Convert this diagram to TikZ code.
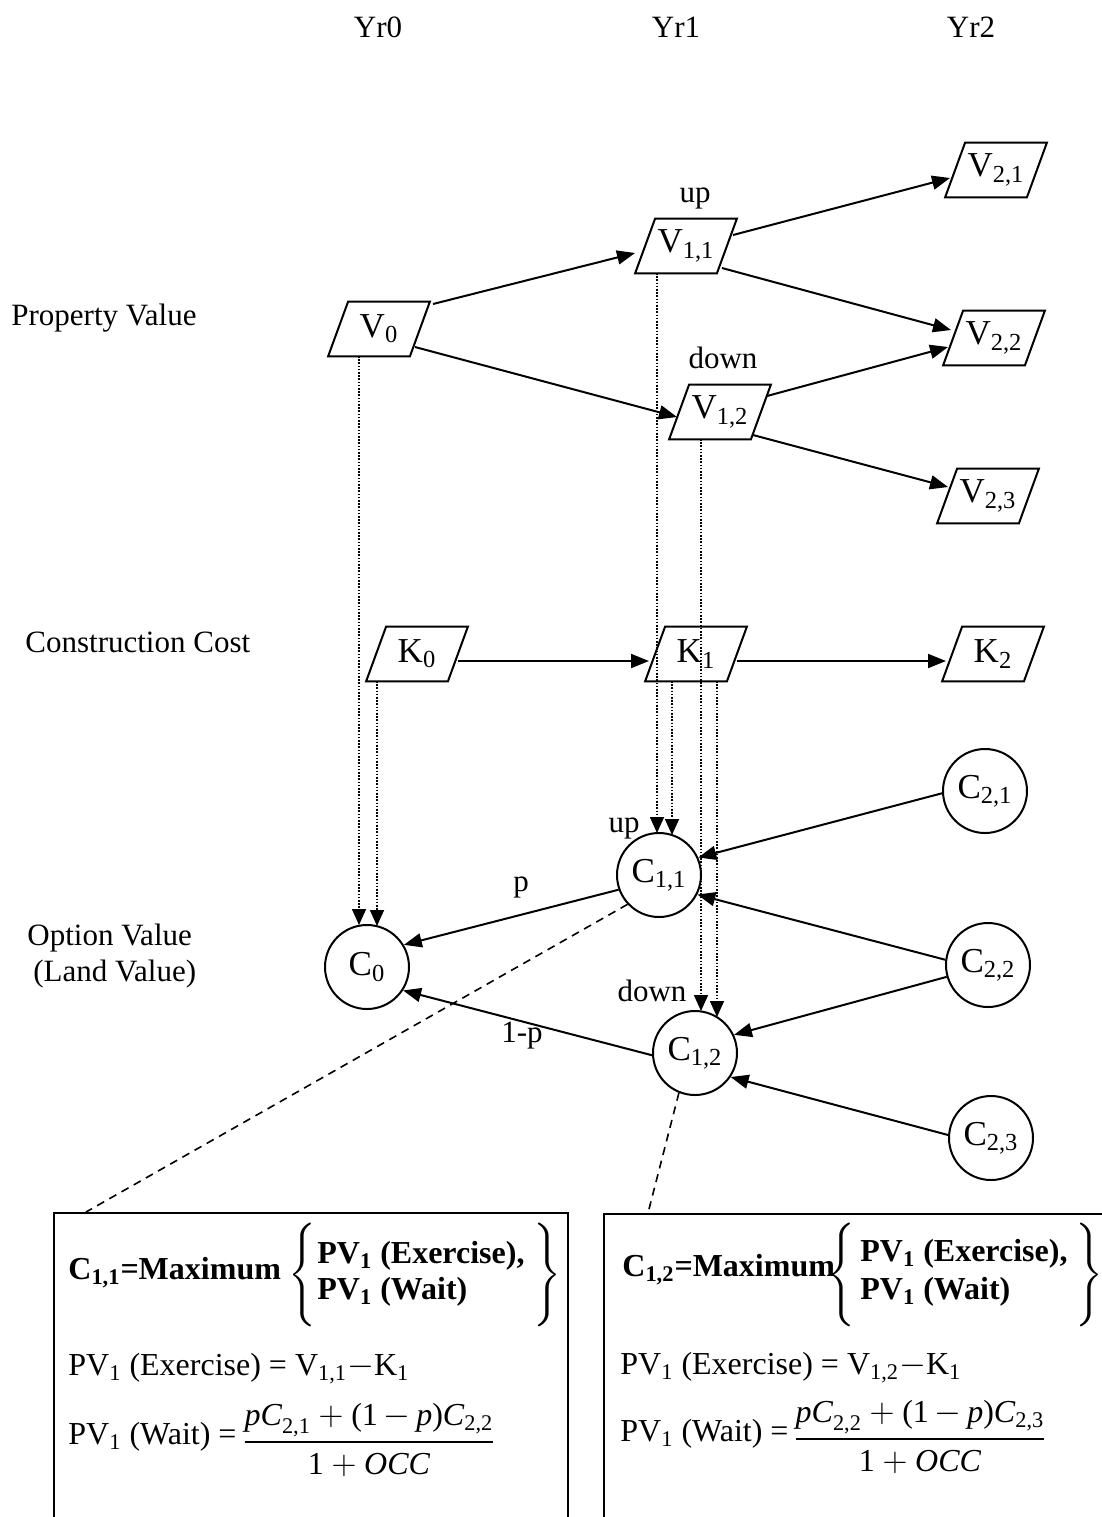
\documentclass[tikz,border=0pt]{standalone}
\usepackage{amsmath}
\usepackage{fontspec}
\setmainfont{Liberation Serif}
\usetikzlibrary{arrows.meta,calc}
\newcommand\mi[1]{\text{\itshape #1}}
\newcommand\sbs[1]{\textsubscript{#1}}
\newcommand\bigbrace[1]{{\delimiterfactor=1000 \delimitershortfall=0pt $#1$}}
\begin{document}
\begin{tikzpicture}[x=0.5pt,y=-0.5pt,
  lab/.style={font=\fontsize{15.5}{18}\selectfont, inner sep=0pt},
  pbox/.style={minimum width=40.5pt, minimum height=27pt, inner sep=0pt, font=\fontsize{17.5}{20}\selectfont},
  pedge/.style={line width=1pt},
  circ/.style={draw, circle, line width=1pt, minimum size=42pt, inner sep=0pt, font=\fontsize{17.5}{20}\selectfont},
  arr/.style={line width=1pt, -{Triangle[length=9pt,width=7pt]}},
  dotarr/.style={line width=0.8pt, dash pattern=on 0.8pt off 0.8pt, -{Triangle[length=8pt,width=7pt]}},
  dashln/.style={line width=0.8pt, dash pattern=on 4pt off 3pt},
  boxtxt/.style={font=\fontsize{16}{19}\selectfont, inner sep=0pt, anchor=west},
  frac/.style={font=\fontsize{16}{19}\selectfont, inner sep=0pt},
  brc/.style={font=\fontsize{16}{19}\selectfont, inner sep=0pt},
  bigbox/.style={draw, line width=1pt, anchor=north west, inner sep=0pt, minimum height=200pt}
]
\useasboundingbox (0,0) rectangle (1102,1517);
\clip (0,0) rectangle (1102,1517);

% column and row labels
\node[lab] (yr0) at (378,27) {Yr0};
\node[lab] (yr1) at (676,27) {Yr1};
\node[lab] (yr2) at (971,27) {Yr2};
\node[lab, anchor=west] (lpv) at (11,318) {Property Value};
\node[lab, anchor=west] (lcc) at (25,642) {Construction Cost};
\node[lab, anchor=west] (lov) at (27,938) {Option Value};
\node[lab, anchor=west] (llv) at (33,974) {(Land Value)};

% property values
\node[pbox] (V0)  at (379,329) {V\sbs{0}};
\node[pbox] (V11) at (686,246) {V\sbs{1,1}};
\node[pbox] (V12) at (720,412) {V\sbs{1,2}};
\node[pbox] (V21) at (996,170) {V\sbs{2,1}};
\node[pbox] (V22) at (994,338) {V\sbs{2,2}};
\node[pbox] (V23) at (988,496) {V\sbs{2,3}};
% construction costs
\node[pbox] (K0) at (417,654) {K\sbs{0}};
\node[pbox] (K1) at (696,654) {K\sbs{1}};
\node[pbox] (K2) at (993,654) {K\sbs{2}};
\foreach \n in {V0,V11,V12,V21,V22,V23,K0,K1,K2}
  \draw[pedge] ([xshift=5pt]\n.north west) -- ([xshift=5pt]\n.north east)
     -- ([xshift=-5pt]\n.south east) -- ([xshift=-5pt]\n.south west) -- cycle;

% option values
\node[circ] (C0)  at (367,967)  {C\sbs{0}};
\node[circ] (C11) at (659,875)  {C\sbs{1,1}};
\node[circ] (C12) at (695,1053) {C\sbs{1,2}};
\node[circ] (C21) at (985,791)  {C\sbs{2,1}};
\node[circ] (C22) at (988,965)  {C\sbs{2,2}};
\node[circ] (C23) at (991,1138) {C\sbs{2,3}};

% small labels
\node[lab] (up1) at (695,198) {up};
\node[lab] (dn1) at (723,358) {down};
\node[lab] (up2) at (624,828) {up};
\node[lab] (dn2) at (652,991) {down};
\node[lab] (lp) at (521,887) {p};
\node[lab] (l1p) at (522,1036) {1-p};

% tree arrows
\draw[arr] ([shift={(54,-25)}]V0.center) -- ([shift={(-51,7)}]V11.center);
\draw[arr] ([shift={(36,18)}]V0.center) -- ([shift={(-43,5)}]V12.center);
\draw[arr] ([shift={(47,-11)}]V11.center) -- ([shift={(-46,8)}]V21.center);
\draw[arr] ([shift={(36,22)}]V11.center) -- ([shift={(-43,-8)}]V22.center);
\draw[arr] ([shift={(47,-16)}]V12.center) -- ([shift={(-46,9)}]V22.center);
\draw[arr] ([shift={(33,23)}]V12.center) -- ([shift={(-40,-9)}]V23.center);
\draw[arr] ([shift={(41,7)}]K0.center) -- ([shift={(-47,7)}]K1.center);
\draw[arr] ([shift={(41,7)}]K1.center) -- ([shift={(-47,7)}]K2.center);

\draw[arr] (C21.183) -- (C11.24);
\draw[arr] (C22.173) -- (C11.-27);
\draw[arr] (C22.196) -- (C12.25);
\draw[arr] (C23.176) -- (C12.-34);
\draw[arr] (C11.200) -- (C0.31);
\draw[arr] (C12.183) -- (C0.-33);

% dotted arrows
\draw[dotarr] ([shift={(-20,27)}]V0.center) -- ([shift={(-8,-42)}]C0.center);
\draw[dotarr] ([shift={(-40,27)}]K0.center) -- ([shift={(10,-41)}]C0.center);
\draw[dotarr] ([shift={(-29,27)}]V11.center) -- ([shift={(-2,-42)}]C11.center);
\draw[dotarr] ([shift={(-24,27)}]K1.center) -- ([shift={(13,-40)}]C11.center);
\draw[dotarr] ([shift={(-19,27)}]V12.center) -- ([shift={(6,-42)}]C12.center);
\draw[dotarr] ([shift={(21,27)}]K1.center) -- ([shift={(22,-36)}]C12.center);

% formula boxes
\node[bigbox, minimum width=257pt] (B1) at (53,1212) {};
\node[bigbox, minimum width=300pt] (B2) at (603,1213) {};
\draw[dashln] (C11.223) -- ([shift={(33,0)}]B1.north west);
\draw[dashln] (C12.248) -- ([shift={(45,0)}]B2.north west);

% left box text
\node[boxtxt] (t1) at (68,1273) {\bfseries C\sbs{1,1}=Maximum};
\node[brc] (lb1) at (304,1275) {\bigbrace{\left\{\vcenter{\hrule height 44pt width 0pt}\right.}};
\node[boxtxt] (t2) at (317,1256) {\bfseries PV\sbs{1} (Exercise),};
\node[boxtxt] (t3) at (317,1292) {\bfseries PV\sbs{1} (Wait)};
\node[brc] (rb1) at (546,1275) {\bigbrace{\left.\vcenter{\hrule height 44pt width 0pt}\right\}}};
\node[boxtxt] (t4) at (68,1369) {PV\sbs{1} (Exercise) = V\sbs{1,1}$-$K\sbs{1}};
\node[boxtxt] (t5) at (68,1437) {PV\sbs{1} (Wait) =};
\node[frac] (f1) at (369,1440) {$\dfrac{\mi{pC}_{\text{2,1}} + \text{(1}\,{-}\,\mi{p}\text{)}\mi{C}_{\text{2,2}}}{\text{1} + \mi{OCC}}$};

% right box text
\node[boxtxt] (u1) at (622,1270) {\bfseries C\sbs{1,2}=Maximum};
\node[brc] (lb2) at (843,1275) {\bigbrace{\left\{\vcenter{\hrule height 44pt width 0pt}\right.}};
\node[boxtxt] (u2) at (860,1254) {\bfseries PV\sbs{1} (Exercise),};
\node[boxtxt] (u3) at (860,1292) {\bfseries PV\sbs{1} (Wait)};
\node[brc] (rb2) at (1088,1275) {\bigbrace{\left.\vcenter{\hrule height 44pt width 0pt}\right\}}};
\node[boxtxt] (u4) at (620,1368) {PV\sbs{1} (Exercise) = V\sbs{1,2}$-$K\sbs{1}};
\node[boxtxt] (u5) at (620,1434) {PV\sbs{1} (Wait) =};
\node[frac] (f2) at (920,1437) {$\dfrac{\mi{pC}_{\text{2,2}} + \text{(1}\,{-}\,\mi{p}\text{)}\mi{C}_{\text{2,3}}}{\text{1} + \mi{OCC}}$};
\end{tikzpicture}
\end{document}
